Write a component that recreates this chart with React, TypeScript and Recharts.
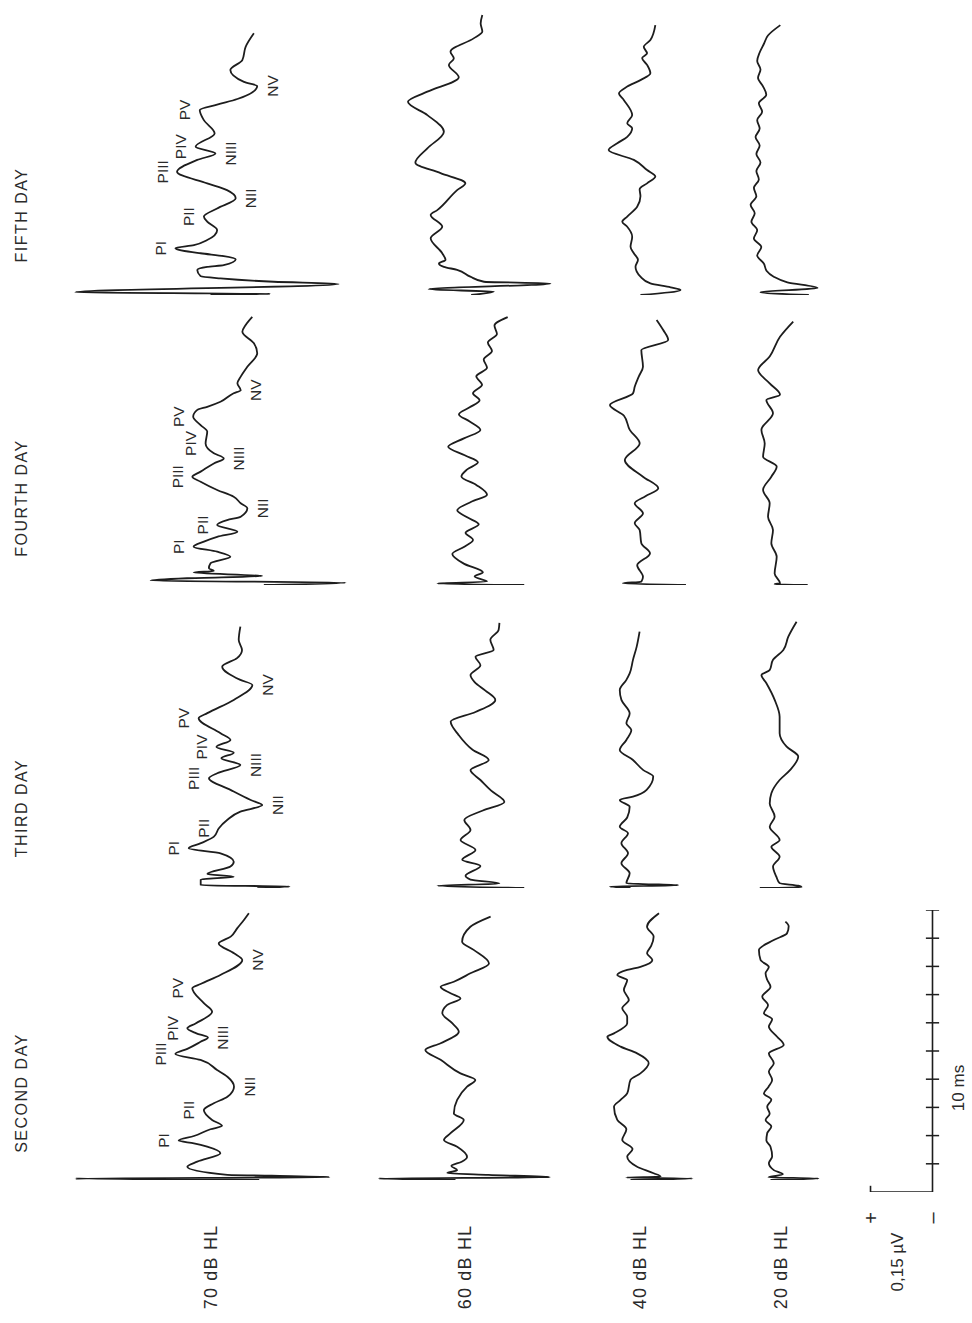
import React from "react";
import { LineChart, Line, XAxis, YAxis, ReferenceLine } from "recharts";

// each point: [time in ms after the click, amplitude in 0.01 µV (positive = drawn left), optional wave name]
type Pt = [number, number, string?];

const fifth70: Pt[] = [
  [0, 0], [0.04, -14.5], [0.1, 32.7], [0.39, -31], [0.47, -15.3], [0.59, -2.4], [0.67, 2.4], [0.89, 3.2],
  [1.0, 0.8], [1.06, -3.2], [1.27, -6.1], [1.38, -3.2], [1.48, 2.4], [1.66, 8.5, "PI"], [1.77, 4.0], [1.95, 0.8],
  [2.3, -1.6], [2.6, 0.8], [2.78, 1.6, "PII"], [3.07, -1.6], [3.43, -6.1, "NII"], [3.72, -4.0], [3.96, 0.8],
  [4.37, 8.1, "PIII"], [4.79, 3.2], [5.02, -1.2, "NIII"], [5.26, 3.6, "PIV"], [5.73, -1.0], [6.2, 1.6],
  [6.56, 2.6, "PV"], [6.75, -1.6], [6.95, -6.5], [7.41, -11.3, "NV"], [7.56, -8.1], [7.98, -4.8], [8.33, -7.7],
  [8.8, -8.5], [9.28, -10.5],
];
const fifth60: Pt[] = [
  [0, -5], [0.12, -10.5], [0.2, 5.3], [0.41, -24.2], [0.47, -8.1], [0.65, -4.8], [0.89, -1.6], [1.0, 1.6],
  [1.12, 2.8], [1.24, 1.2], [1.48, 2.0], [2.01, 4.8], [2.42, 2.0], [2.84, 4.8], [3.01, 3.2], [3.72, -1.6],
  [3.96, -3.6], [4.32, 2.4], [4.69, 8.5], [5.2, 5.6], [5.79, 1.6], [6.38, 5.6], [6.85, 10.3], [7.21, 5.6],
  [7.72, -2.0], [8.16, 0.4], [8.39, -0.8], [8.63, 0], [9.1, -5.6], [9.34, -7.7], [9.63, -7.3], [9.93, -7.7],
];
const fifth40: Pt[] = [
  [0, -1.2], [0.18, -10.9], [0.27, -8.5], [0.41, -3.6], [0.65, -1.2], [1.0, 0], [1.25, -0.6], [1.48, 0.4],
  [1.71, 1.2], [2.07, 0.8], [2.42, 2.0], [2.6, 3.2], [2.78, 2.0], [3.13, -0.4], [3.5, -1.2], [3.75, -1.0],
  [3.96, -2.8], [4.2, -4.8], [4.43, -2.8], [4.79, 0.4], [5.14, 6.5], [5.38, 4.4], [5.61, 2.0], [5.91, 0.8],
  [6.09, 2.0], [6.38, 0.8], [6.91, 2.8], [7.15, 4.0], [7.39, 2.0], [7.62, -1.2], [7.86, -3.6], [8.16, -2.8],
  [8.4, -1.6], [8.57, -2.8], [8.8, -2.0], [9.04, -3.6], [9.57, -4.8],
];
const fifth20: Pt[] = [
  [0, -11.7], [0.1, 0], [0.25, -13.8], [0.45, -6.5], [0.65, -3.2], [0.85, -1.5], [1.12, -0.8], [1.4, 0.8],
  [1.7, -0.2], [2.0, 1.6], [2.3, 0.8], [2.6, 2.2], [2.9, 1.4], [3.2, 2.4], [3.5, 1.0], [3.8, 1.6], [4.1, 0.4],
  [4.4, 1.0], [4.7, 0], [5.0, 1.0], [5.3, 0.2], [5.6, 1.2], [5.9, 0.2], [6.2, 0.8], [6.5, -0.4], [6.8, 0.4],
  [7.1, -1.4], [7.4, -0.6], [7.7, 0.6], [8.0, 0], [8.3, 0.8], [8.6, 0.2], [8.9, -0.8], [9.2, -1.8], [9.57, -4.8],
];

const fourth70: Pt[] = [
  [0, -11.7], [0.08, -31.5], [0.16, 15.7], [0.24, 6.9], [0.32, -11.3], [0.44, 5.3], [0.5, 0.4], [0.59, 1.6],
  [0.77, 1.2], [1.0, -3.6], [1.18, -0.4], [1.36, 5.3, "PI"], [1.54, 2.8], [1.71, -0.4], [1.89, -5.3],
  [2.13, -0.4, "PII"], [2.3, -2.8], [2.42, -6.1], [2.72, -7.7, "NII"], [2.9, -6.1], [3.13, -4.4], [3.37, -0.4],
  [3.66, 3.6], [3.84, 5.6, "PIII"], [4.02, 3.6], [4.31, 0.4], [4.49, -2.0, "NIII"], [4.67, 0.4], [5.02, 2.4, "PIV"],
  [5.44, 2.0], [5.67, 3.6], [5.97, 5.4, "PV"], [6.21, 4.4], [6.32, 2.0], [6.5, -1.2], [6.8, -4.4], [6.91, -6.1, "NV"],
  [7.15, -5.3], [7.39, -6.1], [7.74, -7.7], [8.22, -10.1], [8.57, -9.3], [8.98, -6.5], [9.22, -7.3], [9.51, -8.9],
];
const fourth60: Pt[] = [
  [0, -13], [0.05, 8], [0.12, -4], [0.3, -1], [0.45, -3], [0.75, 1.5], [1.1, 4.4], [1.35, 1.6], [1.6, -0.6],
  [1.85, 1.2], [2.15, -2.0], [2.4, 0.8], [2.65, 3.2], [2.95, -0.2], [3.2, -4], [3.55, -1.4], [3.85, 2.2],
  [4.1, 0.8], [4.35, -1.8], [4.6, 1.4], [4.9, 5.4], [5.2, 1.6], [5.5, -2.4], [5.8, 0.2], [6.05, 2.8], [6.3, 0.2],
  [6.55, -2.2], [6.8, -0.6], [7.1, -2.8], [7.4, -1.4], [7.7, -4], [8.0, -3.2], [8.3, -5.2], [8.6, -4.2],
  [8.9, -6.4], [9.2, -5.8], [9.5, -9],
];
const fourth40: Pt[] = [
  [0, -11], [0.06, 4.3], [0.12, -0.2], [0.29, -0.6], [0.7, 0.8], [1.12, -2.3], [1.48, -0.2], [1.95, 0.2],
  [2.19, 1.4], [2.54, -0.6], [2.9, 1.4], [3.15, -1.2], [3.43, -4.3], [3.84, -0.6], [4.43, 3.8], [5.02, 0.2],
  [5.5, 2.6], [6.0, 4.0], [6.38, 7.4], [6.8, 1.8], [7.03, 1.4], [7.4, 0.4], [7.74, -0.6], [8.33, -0.2],
  [8.69, -6.7], [9.04, -5.5], [9.4, -3.9],
];
const fourth20: Pt[] = [
  [0, -9], [0.03, -1], [0.06, -2.3], [0.41, -1.0], [1.0, -1.5], [1.48, -0.2], [1.95, -0.6], [2.42, 0.6],
  [2.9, 0.2], [3.37, 1.8], [3.84, -0.2], [4.2, -1.5], [4.55, 1.8], [5.02, 1.4], [5.5, 2.2], [6.09, -0.6],
  [6.56, 1.0], [6.75, -2.3], [7.15, 0.2], [7.62, 3.0], [8.1, 0.2], [8.8, -2.3], [9.34, -5.5],
];

const third70: Pt[] = [
  [0, -7.7], [0.05, -15.5], [0.1, 6], [0.3, 6], [0.4, -2.0], [0.5, 4.4], [0.76, -1.2], [0.93, -2.0], [1.23, 1.2],
  [1.41, 8.9, "PI"], [1.58, 6.1], [1.82, 2.8], [2.12, 1.6, "PII"], [2.41, -0.4], [2.71, -3.6], [2.94, -8.9, "NII"],
  [3.12, -6.1], [3.48, -1.2], [3.89, 4.0, "PIII"], [4.07, 2.0], [4.36, -3.6, "NIII"], [4.6, 1.0], [4.8, -2.0],
  [5.0, 2.2, "PIV"], [5.25, -1.2], [5.49, 1.2], [6.02, 6.5, "PV"], [6.2, 4.4], [6.67, -2.0], [7.2, -6.5, "NV"],
  [7.38, -3.6], [7.85, 0.8], [8.15, -2.8], [8.44, -4.0], [8.79, -3.2], [9.27, -3.6],
];
const third60: Pt[] = [
  [0, -13], [0.08, 8], [0.16, -7], [0.3, 0], [0.43, 1.2], [0.78, -2.4], [1.0, 2], [1.35, -1.2], [1.7, 2.4],
  [2.06, 0], [2.41, 1.5], [2.75, -3], [3.05, -8.2], [3.45, -5], [3.83, -2.4], [4.18, 0], [4.54, -4.4], [4.9, -0.5],
  [5.43, 2.9], [5.9, 4.8], [6.24, -1.2], [6.67, -6], [7.0, -3.6], [7.3, -1], [7.55, 0], [7.9, -2.4], [8.2, -1.2],
  [8.44, -5.6], [8.8, -4.8], [9.15, -6.8], [9.4, -7],
];
const third40: Pt[] = [
  [0, 0], [0.05, 5], [0.1, -11.5], [0.14, -3], [0.17, 1.0], [0.52, 0.2], [0.88, 2.2], [1.23, 0.6], [1.59, 2.2],
  [1.94, 0.6], [2.17, 2.6], [2.5, 0.8], [2.88, 0.2], [3.12, 2.6], [3.24, -0.6], [3.48, -3.9], [3.95, -5.5],
  [4.18, -3.1], [4.54, -0.6], [4.89, 2.6], [5.25, 1.0], [5.6, -0.2], [5.84, 1.0], [6.19, 0.2], [6.67, 2.2],
  [7.02, 2.6], [7.38, 1.0], [7.61, 0.2], [8.09, -0.6], [8.56, -1.5], [9.09, -2.2],
];
const third20: Pt[] = [
  [0, 3.8], [0.03, -6.3], [0.08, -5.5], [0.17, -1.0], [0.4, -0.2], [0.76, 0.6], [1.11, -1.0], [1.46, 1.0],
  [1.7, -1.0], [2.17, 1.4], [2.53, 0.2], [3.0, 1.4], [3.36, 1.0], [3.83, -1.0], [4.18, -3.5], [4.66, -5.5],
  [5.01, -2.7], [5.49, -1.0], [6.07, -1.0], [6.67, 0.2], [7.26, 2.2], [7.55, 3.4], [7.73, 1.4], [8.09, 0.6],
  [8.44, -1.9], [8.91, -3.1], [9.44, -5.1],
];

const second70: Pt[] = [
  [0, -13], [0.05, 31.5], [0.1, -30], [0.15, -16], [0.18, -5.3], [0.47, 4.4], [0.65, 2.0], [0.95, -3.6],
  [1.18, -0.4], [1.3, 2.8], [1.4, 6.5, "PI"], [1.56, 2.8], [1.8, -1.2], [1.92, -4.0], [2.13, -1.6], [2.48, 0.4, "PII"],
  [2.72, -2.0], [2.95, -5.3], [3.31, -6.9, "NII"], [3.66, -5.3], [3.9, -2.8], [4.26, 1.2], [4.47, 7.3, "PIII"],
  [4.65, 4.4], [4.9, 1.2], [5.05, -0.6, "NIII"], [5.2, 2.2], [5.38, 4.4, "PIV"], [5.55, 2.4], [5.97, -1.6],
  [6.27, 0.4], [6.8, 3.2, "PV"], [6.95, 1.2], [7.27, -3.6], [7.8, -8.9, "NV"], [8.04, -6.9], [8.39, -3.2],
  [8.63, -6.1], [8.93, -7.7], [9.22, -9.3], [9.46, -10.5],
];
const second60: Pt[] = [
  [0, 0], [0.05, 18.6], [0.1, -22.8], [0.18, -8], [0.25, 2], [0.35, -0.4], [0.5, 1.0], [0.65, -1.5], [0.82, -2.8],
  [1.18, -0.4], [1.42, 2.8], [1.66, 1.2], [2.13, -2.0], [2.36, 0.4], [2.84, -0.4], [3.31, -2.8], [3.55, -4.8],
  [3.78, -1.2], [4.26, 3.6], [4.61, 7.3], [4.85, 3.6], [5.26, -0.8], [5.56, 0.8], [5.91, 3.2], [6.21, 2.0],
  [6.44, -1.2], [6.62, 1.2], [6.85, 3.6], [7.03, 0.4], [7.33, -3.6], [7.68, -8.1], [8.16, -4.4], [8.45, -1.6],
  [8.98, -3.6], [9.34, -8.5],
];
const second40: Pt[] = [
  [0, 0], [0.05, -15], [0.09, 1], [0.12, -7.3], [0.24, -5.6], [0.47, -1.6], [0.83, 0.8], [1.1, -0.5], [1.42, 2.0],
  [1.8, 1.0], [2.13, 3.2], [2.6, 4.0], [2.84, 2.4], [3.07, 0.8], [3.55, 0], [3.78, -2.4], [4.14, -4.4],
  [4.49, -1.6], [4.73, 2.4], [5.08, 5.6], [5.2, 4.0], [5.56, 0.8], [5.79, 0.8], [6.09, 2.0], [6.38, 0.4],
  [6.74, 1.6], [7.09, 0.8], [7.27, 3.2], [7.45, 0.8], [7.56, -2.4], [7.8, -5.3], [8.04, -4.0], [8.3, -5.0],
  [8.63, -5.6], [8.98, -4.0], [9.46, -6.9],
];
const second20: Pt[] = [
  [0, 0], [0.05, -11.6], [0.1, 0.5], [0.2, -3], [0.35, -0.8], [0.6, 0.4], [0.83, -0.4], [1.18, 0], [1.4, 1.0],
  [1.66, 0.8], [1.9, -0.2], [2.13, 1.2], [2.35, 0.2], [2.6, 0.8], [2.85, -0.2], [3.07, 1.6], [3.3, 0.5],
  [3.55, -0.4], [3.85, 0.4], [4.14, -0.8], [4.49, 0.4], [4.79, -3.2], [5.08, -1.6], [5.44, 0.4], [5.7, -0.4],
  [5.91, 1.6], [6.2, 0.6], [6.5, 2.0], [6.85, 0], [7.1, 0.8], [7.33, 1.2], [7.55, 0.4], [7.8, 2.4], [8.16, 2.8],
  [8.51, -0.8], [8.75, -4.0], [9.0, -4.4], [9.16, -3.6],
];

const days = ["FIFTH DAY", "FOURTH DAY", "THIRD DAY", "SECOND DAY"];
const levels = ["70 dB HL", "60 dB HL", "40 dB HL", "20 dB HL"];
const traces = [
  [fifth70, fifth60, fifth40, fifth20],
  [fourth70, fourth60, fourth40, fourth20],
  [third70, third60, third40, third20],
  [second70, second60, second40, second20],
];

// scale bar: 10 ms with 1 ms ticks, 0.15 µV
const scaleTicks = [1, 2, 3, 4, 5, 6, 7, 8, 9, 10];
const scaleAmp = 15;
const scaleTime = 10;

// page layout (pixels)
const rowBase = [295, 585, 888, 1180];
const colZero = [
  [210, 450, 635, 760],
  [215, 470, 640, 770],
  [225, 470, 630, 775],
  [205, 455, 630, 770],
];
const dayLabelY = [215, 498, 808, 1093];
const levelLabelX = [211, 465, 640, 781];

const AMP = 34; // half width of each panel, 0.01 µV
const T_MAX = 10;
const W = 281;
const H = 282;
const FONT = "'Liberation Sans', Arial, Helvetica, sans-serif";
const INK = "#1d1d1d";

const renderMark = (p: any) => {
  const { cx, cy, payload, index } = p;
  if (!payload || !payload.mark || cx == null) return <g key={index} />;
  const lx = cx + (payload.mark[0] === "P" ? -15 : 15);
  return (
    <text
      key={index}
      x={lx}
      y={cy}
      transform={`rotate(-90 ${lx} ${cy})`}
      textAnchor="middle"
      dominantBaseline="central"
      fontFamily={FONT}
      fontSize={15.5}
      fill="#2a2a2a"
    >
      {payload.mark}
    </text>
  );
};

function Trace({ pts, x0, base }: { pts: Pt[]; x0: number; base: number }) {
  const data = pts.map(([t, a, mark]) => ({ t, a, mark }));
  return (
    <div style={{ position: "absolute", left: x0 - W / 2, top: base - H, width: W, height: H }}>
      <LineChart width={W} height={H} data={data} layout="vertical" margin={{ top: 0, right: 0, bottom: 0, left: 0 }}>
        <XAxis type="number" domain={[-AMP, AMP]} reversed hide />
        <YAxis type="number" dataKey="t" domain={[0, T_MAX]} reversed hide />
        <Line
          dataKey="a"
          type="monotone"
          stroke={INK}
          strokeWidth={1.8}
          dot={renderMark}
          activeDot={false}
          isAnimationActive={false}
        />
      </LineChart>
    </div>
  );
}

function ScaleBar({ x0, base }: { x0: number; base: number }) {
  const bar = [{ t: 0, a: 0 }, { t: scaleTime, a: 0 }];
  return (
    <div style={{ position: "absolute", left: x0 - W / 2, top: base - H, width: W, height: H }}>
      <LineChart width={W} height={H} data={bar} layout="vertical" margin={{ top: 0, right: 0, bottom: 0, left: 0 }}>
        <XAxis type="number" domain={[-AMP, AMP]} reversed hide />
        <YAxis type="number" dataKey="t" domain={[0, T_MAX]} reversed hide />
        <Line dataKey="a" stroke={INK} strokeWidth={1.6} dot={false} activeDot={false} isAnimationActive={false} />
        <ReferenceLine
          segment={[{ x: 0, y: 0 }, { x: scaleAmp, y: 0 }]}
          stroke={INK}
          strokeWidth={1.6}
          ifOverflow="visible"
        />
        <ReferenceLine
          segment={[{ x: scaleAmp, y: -0.22 }, { x: scaleAmp, y: 0.22 }]}
          stroke={INK}
          strokeWidth={1.6}
          ifOverflow="visible"
        />
        {scaleTicks.map((k) => (
          <ReferenceLine
            key={k}
            segment={[{ x: -1.6, y: k }, { x: 1.6, y: k }]}
            stroke={INK}
            strokeWidth={1.5}
            ifOverflow="visible"
          />
        ))}
      </LineChart>
    </div>
  );
}

function VText({ x, y, children, size = 15, spacing = 0 }: any) {
  return (
    <text
      x={x}
      y={y}
      transform={`rotate(-90 ${x} ${y})`}
      textAnchor="middle"
      dominantBaseline="central"
      fontFamily={FONT}
      fontSize={size}
      letterSpacing={spacing}
      fill="#2a2a2a"
    >
      {children}
    </text>
  );
}

export default function App() {
  return (
    <div style={{ position: "absolute", left: 0, top: 0, width: 972, height: 1323, background: "#fff", overflow: "hidden" }}>
      {traces.map((row, r) =>
        row.map((pts, c) => <Trace key={`${r}-${c}`} pts={pts} x0={colZero[r][c]} base={rowBase[r]} />)
      )}
      <ScaleBar x0={932} base={1192} />
      <svg width={972} height={1323} style={{ position: "absolute", left: 0, top: 0, pointerEvents: "none" }}>
        {days.map((d, i) => (
          <VText key={d} x={21} y={dayLabelY[i]} size={16} spacing={1.5}>
            {d}
          </VText>
        ))}
        {levels.map((l, i) => (
          <VText key={l} x={levelLabelX[i]} y={1267} size={18} spacing={1.2}>
            {l}
          </VText>
        ))}
        <VText x={871} y={1218} size={20}>+</VText>
        <VText x={932} y={1218} size={20}>–</VText>
        <VText x={897} y={1262} size={17}>0,15 µV</VText>
        <VText x={958} y={1088} size={17}>10 ms</VText>
      </svg>
    </div>
  );
}
